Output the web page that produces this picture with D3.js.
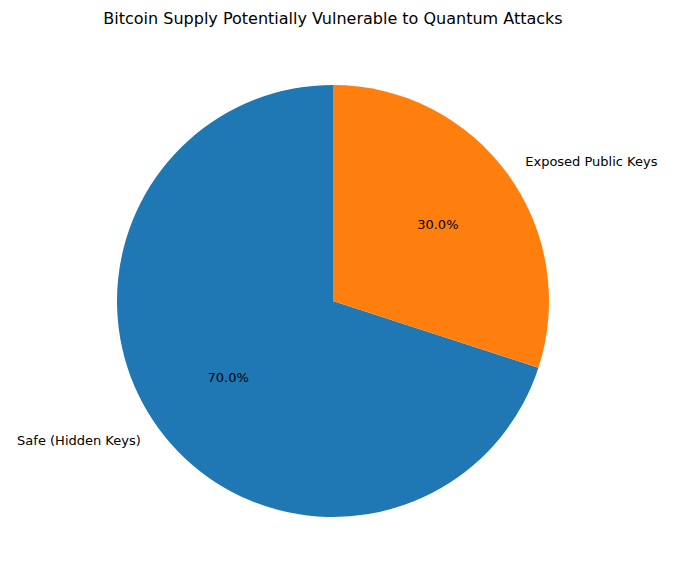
<!DOCTYPE html>
<html>
<head>
<meta charset="utf-8">
<script src="https://cdn.jsdelivr.net/npm/d3@7"></script>
<style>
body { margin: 0; background: #fff; }
text { font-family: "DejaVu Sans", sans-serif; }
</style>
</head>
<body>
<script>
// data
const labels = ['Safe (Hidden Keys)', 'Exposed Public Keys']
const values = [70, 30]
const colors = ['#1f77b4', '#ff7f0e']

const width = 676, height = 581
const cx = 333, cy = 301, radius = 216

const svg = d3.select('body').append('svg')
	.attr('width', width)
	.attr('height', height)

svg.append('text')
	.attr('x', cx).attr('y', 24)
	.attr('text-anchor', 'middle')
	.style('font-size', '16px')
	.text('Bitcoin Supply Potentially Vulnerable to Quantum Attacks')

// matplotlib: startangle 90, counterclockwise; in d3 terms go the other way
const total = d3.sum(values)
const pie = d3.pie().sort(null).value(d => d)
	.startAngle(2 * Math.PI).endAngle(0)
const arcs = pie(values)

const arc = d3.arc().innerRadius(0).outerRadius(radius)

const g = svg.append('g').attr('transform', 'translate(' + cx + ',' + cy + ')')

g.selectAll('path').data(arcs).enter().append('path')
	.attr('d', arc)
	.attr('fill', (d, i) => colors[i])

function pos(d, r){
	const a = (d.startAngle + d.endAngle) / 2
	return [r * Math.sin(a), -r * Math.cos(a)]
}

g.selectAll('.lbl').data(arcs).enter().append('text')
	.attr('class', 'lbl')
	.attr('x', d => pos(d, radius * 1.1)[0])
	.attr('y', d => pos(d, radius * 1.1)[1])
	.attr('dy', '0.35em')
	.attr('text-anchor', d => pos(d, 1)[0] > 0 ? 'start' : 'end')
	.style('font-size', '13px')
	.text((d, i) => labels[i])

g.selectAll('.pct').data(arcs).enter().append('text')
	.attr('class', 'pct')
	.attr('x', d => pos(d, radius * 0.6)[0])
	.attr('y', d => pos(d, radius * 0.6)[1])
	.attr('dy', '0.35em')
	.attr('text-anchor', 'middle')
	.style('font-size', '13px')
	.text(d => (d.value / total * 100).toFixed(1) + '%')
</script>
</body>
</html>
